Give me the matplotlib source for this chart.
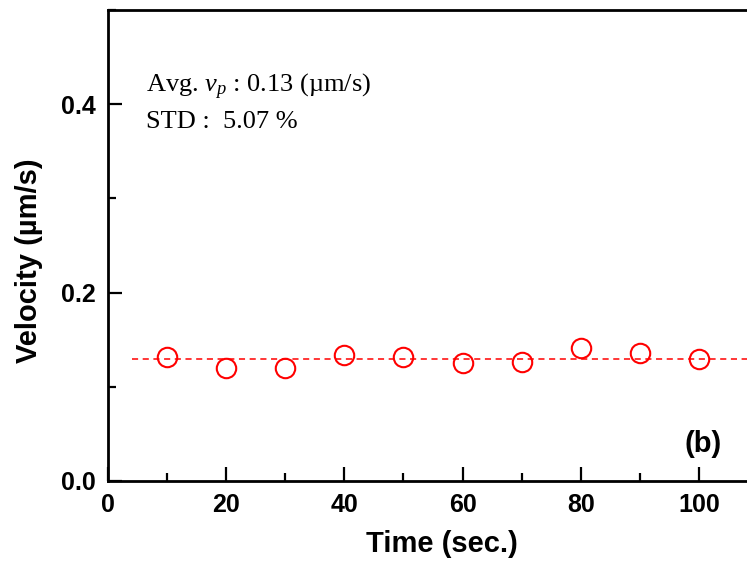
import matplotlib
matplotlib.use("Agg")
import matplotlib.pyplot as plt
from matplotlib.ticker import MultipleLocator, FormatStrFormatter

# data
time_s = [10, 20, 30, 40, 50, 60, 70, 80, 90, 100]
velocity = [0.132, 0.120, 0.120, 0.134, 0.132, 0.125, 0.126, 0.141, 0.136, 0.130]
avg_v = 0.13
avg_x = [4, 112]
note_avg = "Avg. $v_p$ : 0.13 (\u00b5m/s)"
note_std = "STD :  5.07 %"
panel = "(b)"

sans = "Liberation Sans"
serif = "Liberation Serif"
plt.rcParams["mathtext.fontset"] = "custom"
plt.rcParams["mathtext.it"] = "Liberation Serif:italic"
plt.rcParams["mathtext.rm"] = "Liberation Serif"

W, H = 747, 562
fig = plt.figure(figsize=(W / 100, H / 100), dpi=100)
ax = fig.add_axes([108 / W, 81 / H, 650 / W, 471 / H])

ax.plot(time_s, velocity, "o", ls="none", mfc="none", mec="red", ms=14, mew=1.5)
ax.plot(avg_x, [avg_v, avg_v], "--", color="red", lw=1.1, dashes=(4, 3))

ax.set_xlim(0, 110)
ax.set_ylim(0, 0.5)
ax.set_xticks([0, 20, 40, 60, 80, 100])
ax.xaxis.set_minor_locator(MultipleLocator(10))
ax.yaxis.set_major_locator(MultipleLocator(0.2))
ax.yaxis.set_minor_locator(MultipleLocator(0.1))
ax.yaxis.set_major_formatter(FormatStrFormatter("%.1f"))
ax.tick_params(which="both", direction="in", width=1.6, top=False, right=False)
ax.tick_params(which="major", length=10, pad=9)
ax.tick_params(which="minor", length=6)
for lab in ax.get_xticklabels() + ax.get_yticklabels():
    lab.set_fontfamily(sans)
    lab.set_fontweight("bold")
    lab.set_fontsize(18)
for sp in ax.spines.values():
    sp.set_linewidth(2)

fig.text(442 / W, 1 - 552 / H, "Time (sec.)", fontfamily=sans, fontweight="bold",
         fontsize=21, ha="center", va="baseline")
fig.text(29 / W, 1 - 261 / H, "Velocity (\u00b5m/s)", fontfamily=sans, fontweight="bold",
         fontsize=21, ha="center", va="center", rotation=90)

fig.text(146 / W, 1 - 92 / H, note_avg, fontfamily=serif, fontsize=19, va="baseline")
fig.text(146 / W, 1 - 128 / H, note_std, fontfamily=serif, fontsize=19, va="baseline")
fig.text(685 / W, 1 - 452 / H, panel, fontfamily=sans, fontweight="bold", fontsize=21, va="baseline")

fig.savefig("out.png", dpi=100)
